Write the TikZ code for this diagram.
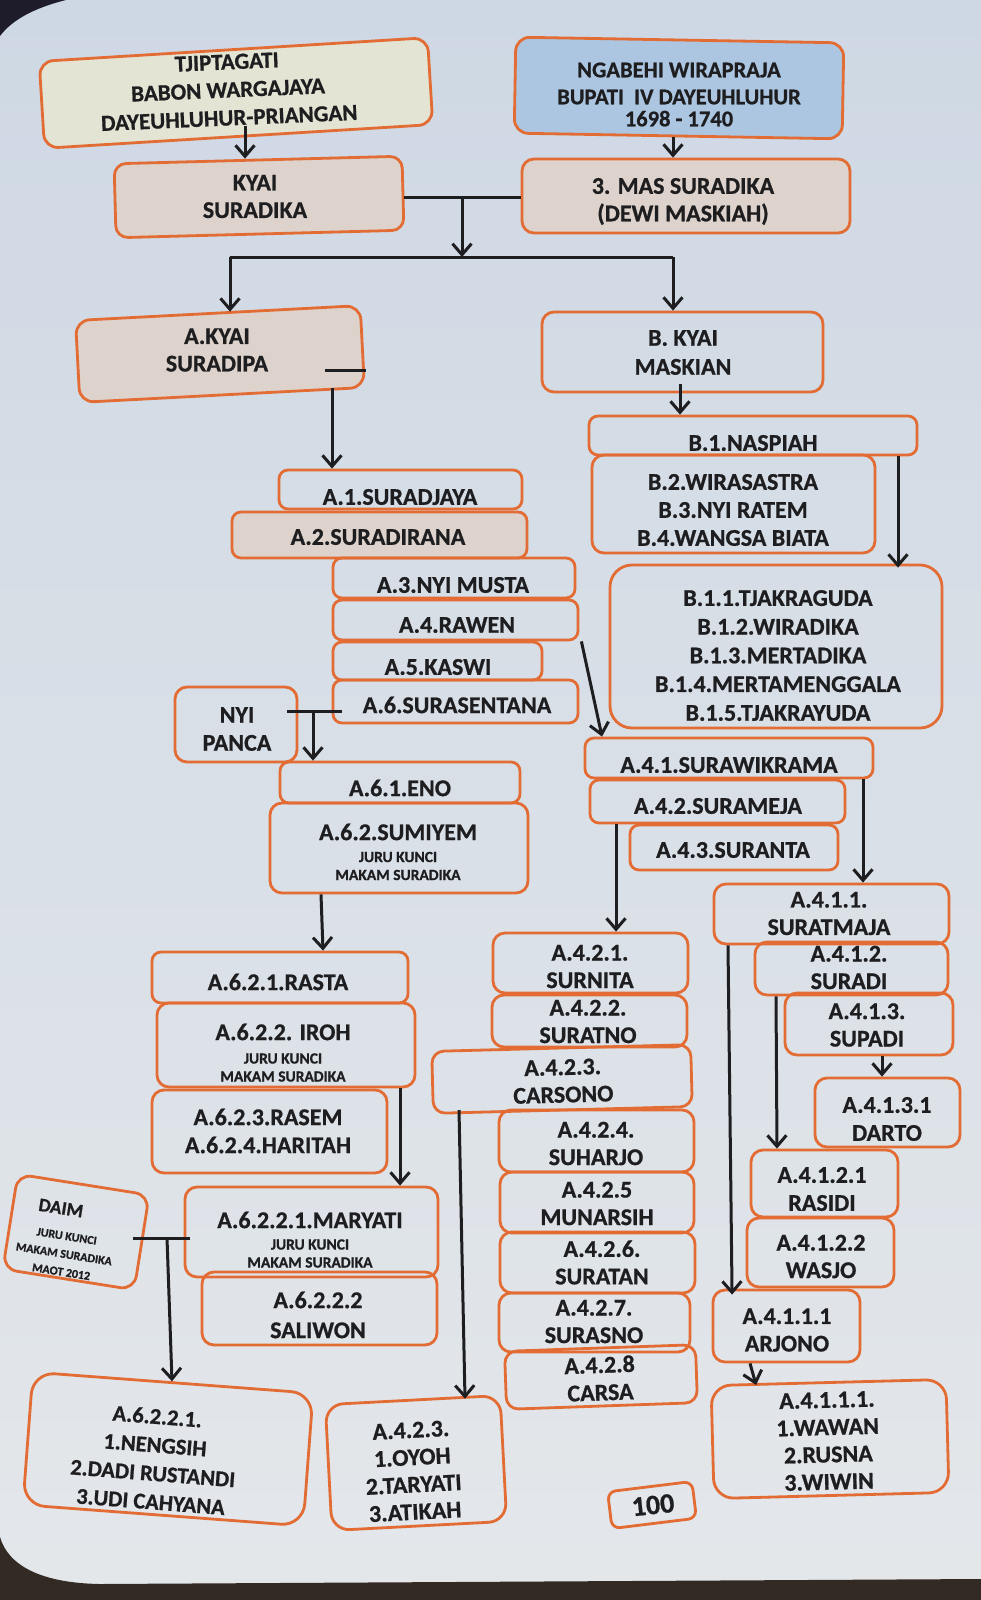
\documentclass[tikz,border=0pt]{standalone}
\usepackage{fontspec}
\setmainfont{Carlito}[BoldFeatures={FakeBold=0.8}]
\usetikzlibrary{arrows.meta,calc}
\definecolor{orng}{RGB}{226,108,52}
\definecolor{ink}{RGB}{30,30,32}
\definecolor{beige}{RGB}{221,211,204}
\definecolor{khaki}{RGB}{228,228,212}
\definecolor{skyb}{RGB}{172,198,225}
\definecolor{pagetop}{RGB}{206,216,228}
\definecolor{pagebot}{RGB}{228,231,234}
\definecolor{darkn}{RGB}{30,28,42}
\definecolor{darkb}{RGB}{52,42,36}
\tikzset{
 bx/.style={draw=orng, line width=2.8pt, rounded corners=9pt, inner sep=0pt},
 tx/.style={text=ink, font=\bfseries\fontsize{24}{27.5}\selectfont, align=center, inner sep=0pt},
 sm/.style={text=ink, font=\bfseries\fontsize{15.5}{18}\selectfont, align=center, inner sep=0pt},
 ln/.style={draw=ink, line width=3pt},
 ar/.style={ln, -{Straight Barb[length=11pt,width=19pt]}},
}
\newcommand\mkbox[6][]{\node[bx,minimum width={#5-#3},minimum height={#6-#4},#1] (#2) at ({(#3+#5)/2},{(#4+#6)/2}) {};}
\newcommand\mktx[4][]{\node[tx,#1] (#2) at (#3) {#4};}
\begin{document}
\begin{tikzpicture}[x=1pt,y=-1pt]
\useasboundingbox (0,0) rectangle (981,1600);
\fill[top color=pagetop, bottom color=pagebot] (0,0) rectangle (981,1600);
\fill[darkn] (0,0) -- (66,0) .. controls (34,8) and (12,20) .. (0,36) -- cycle;
\fill[darkb] (0,1537) .. controls (8,1565) and (40,1583) .. (100,1584) -- (981,1579) -- (981,1600) -- (0,1600) -- cycle;

% ---- boxes
\node[bx, fill=khaki, rounded corners=14pt, minimum width=389, minimum height=87, rotate=3.5] (tjip) at (236,93) {};
\node[bx, fill=skyb, rounded corners=14pt, minimum width=328, minimum height=96, rotate=-1] (ngab) at (679,88) {};
\node[bx, fill=beige, rounded corners=12pt, minimum width=288, minimum height=74, rotate=1.5] (kyai) at (259,197) {};
\mkbox[fill=beige, rounded corners=12pt]{mas}{522}{159}{850}{233}
\node[bx, fill=beige, rounded corners=14pt, minimum width=285, minimum height=82, rotate=3] (akyai) at (220,354) {};
\mkbox[rounded corners=12pt]{bkyai}{542}{312}{823}{392}
\mkbox{naspiah}{589}{416}{917}{455}
\mkbox[rounded corners=12pt]{bdua}{592}{455}{875}{553}
\mkbox[rounded corners=22pt]{bsatu}{610}{565}{942}{728}
\mkbox{aone}{279}{470}{522}{509}
\mkbox[fill=beige]{atwo}{232}{512}{527}{558}
\mkbox{athree}{333}{558}{575}{598}
\mkbox{afour}{333}{600}{578}{640}
\mkbox{afive}{333}{642}{542}{680}
\mkbox{asix}{333}{680}{578}{723}
\mkbox[rounded corners=12pt]{panca}{175}{687}{297}{762}
\mkbox{asixone}{280}{762}{520}{803}
\mkbox[rounded corners=12pt]{asixtwo}{270}{803}{528}{893}
\mkbox{rasta}{152}{952}{408}{1003}
\mkbox[rounded corners=12pt]{iroh}{157}{1003}{415}{1087}
\mkbox[rounded corners=12pt]{rasem}{152}{1090}{387}{1173}
\node[bx, rounded corners=14pt, minimum width=133, minimum height=96, rotate=-9] (daim) at (76,1232) {};
\mkbox[rounded corners=12pt]{maryati}{185}{1187}{438}{1277}
\mkbox[rounded corners=12pt]{saliwon}{202}{1272}{437}{1345}
\node[bx, rounded corners=22pt, minimum width=281, minimum height=133, rotate=-4.3] (nengsih) at (168,1449) {};
\node[bx, rounded corners=18pt, minimum width=175, minimum height=126, rotate=3] (oyoh) at (416,1463) {};
\mkbox{afourone}{585}{738}{873}{778}
\mkbox{afourtwo}{590}{780}{845}{823}
\mkbox{afourthree}{630}{825}{838}{870}
\mkbox[rounded corners=12pt]{surnita}{493}{933}{688}{993}
\mkbox[rounded corners=12pt]{suratno}{492}{995}{687}{1047}
\node[bx, rounded corners=12pt, minimum width=259, minimum height=62, rotate=1.5] (carsono) at (562,1079) {};
\mkbox[rounded corners=12pt]{suharjo}{499}{1110}{694}{1172}
\mkbox[rounded corners=12pt]{munarsih}{500}{1172}{694}{1233}
\mkbox[rounded corners=12pt]{suratan}{500}{1232}{695}{1293}
\mkbox[rounded corners=12pt]{surasno}{499}{1293}{690}{1352}
\node[bx, rounded corners=12pt, minimum width=191, minimum height=58, rotate=2] (carsa) at (601,1377) {};
\mkbox[rounded corners=12pt]{suratmaja}{714}{884}{949}{944}
\mkbox[rounded corners=12pt]{suradi}{755}{942}{948}{995}
\mkbox[rounded corners=12pt]{supadi}{785}{993}{953}{1055}
\mkbox[rounded corners=12pt]{darto}{815}{1078}{960}{1147}
\mkbox[rounded corners=12pt]{rasidi}{751}{1150}{898}{1217}
\mkbox[rounded corners=12pt]{wasjo}{747}{1218}{894}{1287}
\mkbox[rounded corners=12pt]{arjono}{713}{1290}{860}{1362}
\node[bx, rounded corners=20pt, minimum width=235, minimum height=113, rotate=1.5] (wawan) at (830,1439) {};
\node[bx, rounded corners=8pt, minimum width=85, minimum height=37, rotate=7] (hal) at (652,1505) {};

% ---- texts
\mktx[rotate=2.5, font=\bfseries\fontsize{23}{28}\selectfont]{tjipT}{228,90}{TJIPTAGATI\\BABON WARGAJAYA\\DAYEUHLUHUR-PRIANGAN}
\mktx[font=\bfseries\fontsize{22.5}{27}\selectfont]{ngabT}{679,94.5}{NGABEHI WIRAPRAJA\\BUPATI\ \ IV DAYEUHLUHUR\\[-5pt]1698 - 1740}
\mktx{kyaiT}{255,196.5}{KYAI\\SURADIKA}
\mktx{masT}{683,201.5}{3. MAS SURADIKA\\(DEWI MASKIAH)}
\mktx{akyaiT}{217,350}{A.KYAI\\SURADIPA}
\mktx[font=\bfseries\fontsize{24}{29}\selectfont]{bkyaiT}{683,352.5}{B. KYAI\\MASKIAN}
\mktx{naspiahT}{753,443}{B.1.NASPIAH}
\mktx[font=\bfseries\fontsize{24}{28}\selectfont]{bduaT}{733,510}{B.2.WIRASASTRA\\B.3.NYI RATEM\\B.4.WANGSA BIATA}
\mktx[font=\bfseries\fontsize{24}{28.7}\selectfont]{bsatuT}{778,655.5}{B.1.1.TJAKRAGUDA\\B.1.2.WIRADIKA\\B.1.3.MERTADIKA\\B.1.4.MERTAMENGGALA\\B.1.5.TJAKRAYUDA}
\mktx{aoneT}{400,497}{A.1.SURADJAYA}
\mktx{atwoT}{378,537}{A.2.SURADIRANA}
\mktx{athreeT}{453,585}{A.3.NYI MUSTA}
\mktx{afourT}{457,625}{A.4.RAWEN}
\mktx{afiveT}{438,667}{A.5.KASWI}
\mktx{asixT}{457,705}{A.6.SURASENTANA}
\mktx[font=\bfseries\fontsize{24}{28}\selectfont]{pancaT}{237,729}{NYI\\PANCA}
\mktx{asixoneT}{400,788}{A.6.1.ENO}
\mktx{asixtwoT}{398,832}{A.6.2.SUMIYEM}
\node[sm] (asixtwoS) at (398,866) {JURU KUNCI\\MAKAM SURADIKA};
\mktx{rastaT}{278,982}{A.6.2.1.RASTA}
\mktx{irohT}{283,1032}{A.6.2.2. IROH}
\node[sm] (irohS) at (283,1067.5) {JURU KUNCI\\MAKAM SURADIKA};
\mktx[font=\bfseries\fontsize{24}{28}\selectfont]{rasemT}{268,1131}{A.6.2.3.RASEM\\A.6.2.4.HARITAH}
\node[tx, rotate=-9, font=\bfseries\fontsize{19}{22}\selectfont] (daimT) at (61,1208) {DAIM};
\node[sm, rotate=-9, font=\bfseries\fontsize{12}{18}\selectfont] (daimS) at (64,1254) {JURU KUNCI\\MAKAM SURADIKA\\MAOT 2012};
\mktx{maryatiT}{310,1220}{A.6.2.2.1.MARYATI}
\node[sm] (maryatiS) at (310,1253.5) {JURU KUNCI\\MAKAM SURADIKA};
\mktx[font=\bfseries\fontsize{24}{30}\selectfont]{saliwonT}{318,1315}{A.6.2.2.2\\SALIWON}
\mktx[rotate=-4.5, font=\bfseries\fontsize{22.5}{28.5}\selectfont]{nengsihT}{154,1459}{A.6.2.2.1.\\1.NENGSIH\\2.DADI RUSTANDI\\3.UDI CAHYANA}
\mktx[rotate=3, font=\bfseries\fontsize{24}{27.3}\selectfont]{oyohT}{413,1471}{A.4.2.3.\\1.OYOH\\2.TARYATI\\3.ATIKAH}
\mktx{afouroneT}{729,765}{A.4.1.SURAWIKRAMA}
\mktx{afourtwoT}{718,806}{A.4.2.SURAMEJA}
\mktx{afourthreeT}{733,850}{A.4.3.SURANTA}
\mktx{surnitaT}{590,966.5}{A.4.2.1.\\SURNITA}
\mktx{suratnoT}{588,1021.5}{A.4.2.2.\\SURATNO}
\mktx[rotate=1.5]{carsonoT}{563,1081}{A.4.2.3.\\CARSONO}
\mktx{suharjoT}{596,1143.5}{A.4.2.4.\\SUHARJO}
\mktx{munarsihT}{597,1203.5}{A.4.2.5\\MUNARSIH}
\mktx{suratanT}{602,1262.5}{A.4.2.6.\\SURATAN}
\mktx{surasnoT}{594,1321.5}{A.4.2.7.\\SURASNO}
\mktx[rotate=2]{carsaT}{600,1378.5}{A.4.2.8\\CARSA}
\mktx{suratmajaT}{829,913.5}{A.4.1.1.\\SURATMAJA}
\mktx{suradiT}{849,967.5}{A.4.1.2.\\SURADI}
\mktx{supadiT}{867,1025}{A.4.1.3.\\SUPADI}
\mktx[font=\bfseries\fontsize{24}{28}\selectfont]{dartoT}{887,1119}{A.4.1.3.1\\DARTO}
\mktx[font=\bfseries\fontsize{24}{28}\selectfont]{rasidiT}{822,1189}{A.4.1.2.1\\RASIDI}
\mktx{wasjoT}{821,1256.5}{A.4.1.2.2\\WASJO}
\mktx{arjonoT}{787,1330}{A.4.1.1.1\\ARJONO}
\mktx[rotate=1.5, font=\bfseries\fontsize{24}{27.3}\selectfont]{wawanT}{828,1441}{A.4.1.1.1.\\1.WAWAN\\2.RUSNA\\3.WIWIN}
\mktx[rotate=6, font=\bfseries\fontsize{28}{30}\selectfont]{halT}{653,1505}{100}

% ---- connectors
\coordinate (m1) at (462,197);
\coordinate (jl) at (230,257);
\coordinate (jr) at (673,257);
\coordinate (jm) at (462,257);
\coordinate (d1) at (325,370);
\coordinate (d2) at (332,388);
\coordinate (p1) at (287,711);
\coordinate (p2) at (342,711);
\coordinate (p3) at (313,711);
\coordinate (q1) at (133,1238);
\coordinate (q2) at (167,1238);
\coordinate (q3) at (459,1110);
\draw[ar] (tjipT.south -| 245,0) -- (kyai.north -| 245,0);
\draw[ar] (ngab.south -| 673,0) -- (mas.north -| 673,0);
\draw[ln] (kyai.east |- m1) -- (mas.west |- m1);
\draw[ar] (m1) -- (jm);
\draw[ln] (jl) -- (jr);
\draw[ar] (jl) -- (akyai.north -| jl);
\draw[ar] (jr) -- (bkyai.north -| jr);
\draw[ln] (d1) -- ([xshift=2pt]d1 -| akyai.east);
\draw[ar] (d2) -- (aone.north -| d2);
\draw[ar] (bkyai.south -| 680,0) ++(0,-9) -- (naspiah.north -| 680,0);
\draw[ar, shorten >=-4pt] (naspiah.south -| 898,0) -- (bsatu.north -| 898,0);
\draw[ar] ([xshift=2pt]afour.south east) -- (afourone.north -| 602,0);
\draw[ln] (p1) -- (p2);
\draw[ar] (p3) -- (asixone.north -| p3);
\draw[ar] (asixtwo.south -| 321,0) -- (rasta.north -| 323,0);
\draw[ar] (iroh.south -| 400,0) -- (maryati.north -| 400,0);
\draw[ln] (q1) -- ([xshift=6pt]q1 -| maryati.west);
\draw[ar] (q2) -- (nengsih.north -| 172,0);
\draw[ar] (q3) -- (oyoh.north -| 465,0);
\draw[ar] (afourone.south -| 863,0) -- (suratmaja.north -| 863,0);
\draw[ar] (afourtwo.south -| 616,0) -- (surnita.north -| 616,0);
\draw[ar, shorten >=-6pt] (suratmaja.south -| 728,0) -- (arjono.north -| 732,0);
\draw[ar] (suradi.south -| 776,0) -- (rasidi.north -| 777,0);
\draw[ar] (supadi.south -| 882,0) -- (darto.north -| 882,0);
\draw[ar, shorten >=-4pt] (arjono.south -| 750,0) -- (wawan.north -| 755,0);
\end{tikzpicture}
\end{document}
